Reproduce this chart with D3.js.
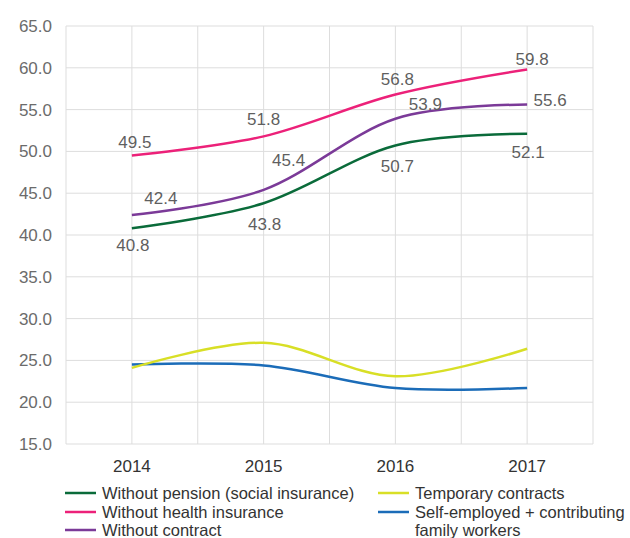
<!DOCTYPE html>
<html>
<head>
<meta charset="utf-8">
<script src="https://cdn.jsdelivr.net/npm/d3@7"></script>
<style>
  body { margin: 0; background: #fff; }
  svg { font-family: "Liberation Sans", Arial, sans-serif; }
</style>
</head>
<body>
<div id="chart"></div>
<script>
const years = ['2014', '2015', '2016', '2017'];
const yTicks = [15, 20, 25, 30, 35, 40, 45, 50, 55, 60, 65];

const withoutPension = [40.8, 43.8, 50.7, 52.1];
const withoutHealth = [49.5, 51.8, 56.8, 59.8];
const withoutContract = [42.4, 45.4, 53.9, 55.6];
const temporary = [24.1, 27.1, 23.1, 26.4];
const selfEmployed = [24.5, 24.4, 21.7, 21.7];

const seriesNames = [
  'Without pension (social insurance)',
  'Without health insurance',
  'Without contract',
  'Temporary contracts',
  'Self-employed + contributing family workers'
];

const series = [
  { name: seriesNames[0], values: withoutPension, color: '#0a6b3a', labels: true },
  { name: seriesNames[1], values: withoutHealth, color: '#ec2179', labels: true },
  { name: seriesNames[2], values: withoutContract, color: '#7b3a98', labels: true },
  { name: seriesNames[3], values: temporary, color: '#d8df26', labels: false },
  { name: seriesNames[4], values: selfEmployed, color: '#1b6cb8', labels: false }
];

// label offsets per series / year (dx, dy relative to point)
const labelPos = {
  0: [[1, 17], [1, 21], [2, 21], [1, 18]],
  1: [[3, -13.5], [0, -17], [2, -16], [5, -10.5]],
  2: [[29, -17], [25, -29.5], [30, -15], [23, -5]]
};

const W = 630, H = 538;
const margin = { top: 26, left: 66, right: 37, bottom: 94 };
const width = W - margin.left - margin.right;
const height = H - margin.top - margin.bottom;

const svg = d3.select('#chart').append('svg')
  .attr('width', W)
  .attr('height', H);

const g = svg.append('g')
  .attr('transform', 'translate(' + margin.left + ',' + margin.top + ')');

const x = d3.scaleBand().domain(years).range([0, width]);
const y = d3.scaleLinear().domain([15, 65]).range([height, 0]);
const cx = d => x(d) + x.bandwidth() / 2;

// grid
const vLines = [];
years.forEach(yr => { vLines.push(x(yr)); vLines.push(cx(yr)); });
vLines.push(width);
g.selectAll('.vgrid').data(vLines).enter().append('line')
  .attr('x1', d => d).attr('x2', d => d)
  .attr('y1', 0).attr('y2', height)
  .attr('stroke', '#dddddd').attr('stroke-width', 1);

g.selectAll('.hgrid').data(yTicks).enter().append('line')
  .attr('x1', 0).attr('x2', width)
  .attr('y1', d => y(d)).attr('y2', d => y(d))
  .attr('stroke', '#dddddd').attr('stroke-width', 1);

// y axis
const yAxis = g.append('g')
  .call(d3.axisLeft(y).tickValues(yTicks).tickFormat(d3.format('.1f')).tickSize(0).tickPadding(14));
yAxis.select('.domain').remove();
yAxis.selectAll('text')
  .style('font-size', '17px')
  .style('font-family', '"Liberation Sans", Arial, sans-serif')
  .attr('fill', '#6b6b6b');

// x axis
const xAxis = g.append('g')
  .attr('transform', 'translate(0,' + height + ')')
  .call(d3.axisBottom(x).tickSize(0).tickPadding(16));
xAxis.select('.domain').remove();
xAxis.selectAll('text')
  .style('font-size', '17px')
  .style('font-family', '"Liberation Sans", Arial, sans-serif')
  .attr('fill', '#333');

// lines
const line = d3.line()
  .x((d, i) => cx(years[i]))
  .y(d => y(d))
  .curve(d3.curveCardinal.tension(0));

g.selectAll('.series').data(series.slice().reverse()).enter().append('path')
  .attr('d', d => line(d.values))
  .attr('fill', 'none')
  .attr('stroke', d => d.color)
  .attr('stroke-width', 2.5);

// data labels
series.forEach((s, si) => {
  if (!s.labels) return;
  g.selectAll('.lbl' + si).data(s.values).enter().append('text')
    .attr('x', (d, i) => cx(years[i]) + labelPos[si][i][0])
    .attr('y', (d, i) => y(d) + labelPos[si][i][1])
    .attr('dy', '0.35em')
    .attr('text-anchor', 'middle')
    .style('font-size', '17px')
    .attr('fill', '#5f5f5f')
    .text(d => d3.format('.1f')(d));
});

// legend
const legendItems = [
  { s: series[0], x: 65, y: 493 },
  { s: series[1], x: 65, y: 512 },
  { s: series[2], x: 65, y: 530 },
  { s: series[3], x: 378, y: 493 },
  { s: series[4], x: 378, y: 512, lines: ['Self-employed + contributing', 'family workers'] }
];
const leg = svg.append('g');
legendItems.forEach(it => {
  leg.append('line')
    .attr('x1', it.x).attr('x2', it.x + 31)
    .attr('y1', it.y).attr('y2', it.y)
    .attr('stroke', it.s.color).attr('stroke-width', 2.5);
  const t = leg.append('text')
    .attr('y', it.y)
    .style('font-size', '16.5px')
    .attr('fill', '#333');
  const parts = it.lines || [it.s.name];
  parts.forEach((p, i) => {
    t.append('tspan').attr('x', it.x + 37).attr('dy', i === 0 ? '0.35em' : '18px').text(p);
  });
});
</script>
</body>
</html>
